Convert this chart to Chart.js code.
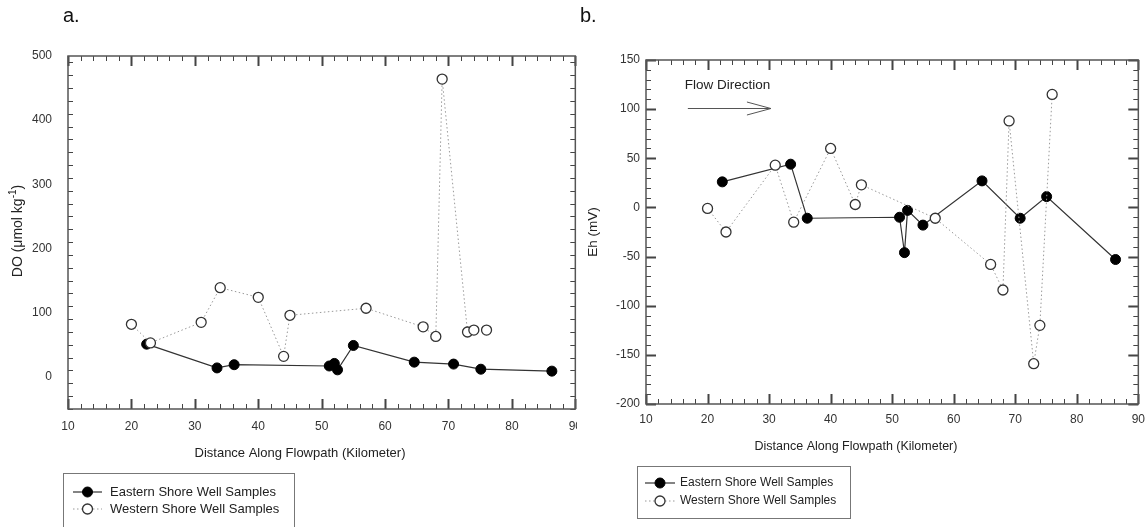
<!DOCTYPE html>
<html>
<head>
<meta charset="utf-8">
<script src="https://cdn.jsdelivr.net/npm/chart.js@4.4.1/dist/chart.umd.min.js"></script>
<style>
  body { margin: 0; background: #fff; width: 1146px; height: 527px; overflow: hidden; position: relative; }
  .panel { position: absolute; top: 0; background: #fff; }
  #panelA { left: 0; }
  #panelB { left: 577px; }
</style>
</head>
<body>
<div class="panel" id="panelA"><canvas id="chartA" width="592" height="527"></canvas></div>
<div class="panel" id="panelB"><canvas id="chartB" width="576" height="527"></canvas></div>
<script>
// distance along flowpath (km)
const distEast = [22.4, 33.5, 36.2, 51.2, 52.0, 52.5, 55.0, 64.6, 70.8, 75.1, 86.3];
const distWest = [20, 23, 31, 34, 40, 44, 45, 57, 66, 68, 69, 73, 74, 76];

// dissolved oxygen (umol/kg)
const doEast = [51, 14, 19, 17, 21, 11, 49, 23, 20, 12, 9];
const doWest = [82, 53, 85, 139, 124, 32, 96, 107, 78, 63, 464, 70, 73, 73];

// Eh (mV)
const ehEast = [26, 44, -11, -10, -46, -3, -18, 27, -11, 11, -53];
const ehWest = [-1, -25, 43, -15, 60, 3, 23, -11, -58, -84, 88, -159, -120, 115];

const seriesNames = ["Eastern Shore Well Samples", "Western Shore Well Samples"];
const xTitle = "Distance Along Flowpath (Kilometer)";

const FONT = "'Liberation Sans', Arial, sans-serif";
Chart.defaults.font.family = FONT;
Chart.defaults.font.size = 12;
Chart.defaults.color = "#333";

const toPoints = (xs, ys) => xs.map((x, i) => ({ x, y: ys[i] }));

function makeDatasets(eastY, westY) {
  return [
    {
      label: seriesNames[0],
      data: toPoints(distEast, eastY),
      showLine: true,
      borderColor: "#333",
      borderWidth: 1.2,
      pointBackgroundColor: "#000",
      pointBorderColor: "#000",
      pointRadius: 5,
      pointBorderWidth: 1,
      order: 1,
    },
    {
      label: seriesNames[1],
      data: toPoints(distWest, westY),
      showLine: true,
      borderColor: "#999",
      borderWidth: 1,
      borderDash: [1.5, 2.5],
      pointBackgroundColor: "#fff",
      pointBorderColor: "#333",
      pointRadius: 5,
      pointBorderWidth: 1.3,
      order: 0,
    },
  ];
}

// inward major/minor ticks on all four sides, frame, titles, legend
const frameTicks = {
  id: "frameTicks",
  afterDatasetsDraw(chart, args, o) {
    const { ctx, chartArea: a, scales: { x, y } } = chart;
    ctx.save();
    ctx.strokeStyle = "#444";

    const near = (v, step) => Math.abs(v / step - Math.round(v / step)) < 1e-6;

    for (let v = x.min; v <= x.max + 1e-9; v += o.xMinor) {
      const px = Math.round(x.getPixelForValue(v)) + 0.5;
      const major = near(v, o.xMajor);
      const len = major ? 10 : 5;
      ctx.lineWidth = major ? 2 : 1;
      ctx.beginPath();
      ctx.moveTo(px, a.bottom); ctx.lineTo(px, a.bottom - len);
      ctx.moveTo(px, a.top); ctx.lineTo(px, a.top + len);
      ctx.stroke();
    }
    for (let v = y.min; v <= y.max + 1e-9; v += o.yMinor) {
      const py = Math.round(y.getPixelForValue(v)) + 0.5;
      const major = near(v, o.yMajor);
      const len = major ? 10 : 5;
      ctx.lineWidth = major ? 2 : 1;
      ctx.beginPath();
      ctx.moveTo(a.left, py); ctx.lineTo(a.left + len, py);
      ctx.moveTo(a.right, py); ctx.lineTo(a.right - len, py);
      ctx.stroke();
    }

    ctx.lineWidth = 1.5;
    ctx.strokeStyle = "#555";
    ctx.strokeRect(a.left, a.top, a.right - a.left, a.bottom - a.top);

    // flow direction note
    if (o.flow) {
      const f = o.flow;
      ctx.fillStyle = "#222";
      ctx.font = "13.5px " + FONT;
      ctx.textAlign = "left";
      ctx.textBaseline = "middle";
      ctx.fillText(f.text, x.getPixelForValue(f.textX), y.getPixelForValue(f.textY));
      const x0 = x.getPixelForValue(f.x0), x1 = x.getPixelForValue(f.x1);
      const ay = Math.round(y.getPixelForValue(f.y)) + 0.5;
      ctx.strokeStyle = "#555";
      ctx.lineWidth = 1;
      ctx.beginPath();
      ctx.moveTo(x0, ay); ctx.lineTo(x1, ay);
      ctx.moveTo(x1 - 24, ay - 6.5); ctx.lineTo(x1, ay); ctx.lineTo(x1 - 24, ay + 6.5);
      ctx.stroke();
    }
    ctx.restore();
  },
  afterDraw(chart, args, o) {
    const ctx = chart.ctx;
    ctx.save();
    ctx.fillStyle = "#111";
    ctx.textBaseline = "middle";

    // panel letter
    ctx.font = "20px " + FONT;
    ctx.textAlign = "left";
    ctx.fillText(o.letter.text, o.letter.x, o.letter.y);

    // x title
    ctx.font = o.xTitle.size + "px " + FONT;
    ctx.fillStyle = "#222";
    ctx.textAlign = "center";
    ctx.fillText(xTitle, o.xTitle.x, o.xTitle.y);

    // y title, with optional superscript
    const ys = o.yTitle.size;
    ctx.translate(o.yTitle.x, o.yTitle.y);
    ctx.rotate(-Math.PI / 2);
    ctx.textAlign = "left";
    const parts = o.yTitle.parts;
    const fontOf = (p) => (p.sup ? Math.round(ys * 0.7) : ys) + "px " + FONT;
    let total = 0;
    parts.forEach((p) => {
      ctx.font = fontOf(p);
      total += ctx.measureText(p.t).width;
    });
    let cx = -total / 2;
    parts.forEach((p) => {
      ctx.font = fontOf(p);
      ctx.fillText(p.t, cx, p.sup ? -4.5 : 0);
      cx += ctx.measureText(p.t).width;
    });
    ctx.setTransform(1, 0, 0, 1, 0, 0);

    // legend box
    const L = o.legend;
    ctx.strokeStyle = "#777";
    ctx.lineWidth = 1;
    ctx.strokeRect(L.x + 0.5, L.y + 0.5, L.w, L.h);
    ctx.font = L.size + "px " + FONT;
    ctx.fillStyle = "#222";
    ctx.textAlign = "left";
    chart.data.datasets.forEach((ds, i) => {
      const ry = L.rows[i];
      const mx = (L.lx0 + L.lx1) / 2;
      ctx.save();
      ctx.strokeStyle = ds.borderColor;
      ctx.lineWidth = ds.borderWidth;
      ctx.setLineDash(ds.borderDash || []);
      ctx.beginPath();
      ctx.moveTo(L.lx0, ry); ctx.lineTo(L.lx1, ry);
      ctx.stroke();
      ctx.setLineDash([]);
      ctx.beginPath();
      ctx.arc(mx, ry, 5, 0, Math.PI * 2);
      ctx.fillStyle = ds.pointBackgroundColor;
      ctx.fill();
      ctx.lineWidth = ds.pointBorderWidth;
      ctx.strokeStyle = ds.pointBorderColor;
      ctx.stroke();
      ctx.restore();
      ctx.fillText(ds.label, L.tx, ry);
    });
    ctx.restore();
  },
};

function makeChart(id, cfg) {
  return new Chart(document.getElementById(id), {
    type: "scatter",
    data: { datasets: makeDatasets(cfg.eastY, cfg.westY) },
    options: {
      responsive: false,
      animation: false,
      layout: { padding: cfg.padding },
      plugins: {
        legend: { display: false },
        tooltip: { enabled: false },
        frameTicks: cfg.deco,
      },
      scales: {
        x: {
          type: "linear",
          min: 10,
          max: 90,
          grid: { display: false, drawTicks: false },
          border: { display: false },
          ticks: { stepSize: 10, padding: cfg.xPad, color: "#333" },
          afterFit: (s) => { s.height = cfg.xAxisH; },
        },
        y: {
          type: "linear",
          min: cfg.yMin,
          max: cfg.yMax,
          grid: { display: false, drawTicks: false },
          border: { display: false },
          ticks: { stepSize: cfg.yStep, padding: cfg.yPad, includeBounds: false, color: "#333" },
          afterFit: (s) => { s.width = cfg.yAxisW; },
        },
      },
    },
    plugins: [frameTicks],
  });
}

makeChart("chartA", {
  eastY: doEast,
  westY: doWest,
  yMin: -50, yMax: 500, yStep: 100,
  padding: { left: 0, top: 56, right: 15, bottom: 0 },
  xAxisH: 118, yAxisW: 68, xPad: 10, yPad: 16,
  deco: {
    xMinor: 2, xMajor: 10, yMinor: 20, yMajor: 100,
    letter: { text: "a.", x: 63, y: 16 },
    xTitle: { x: 300, y: 453, size: 13 },
    yTitle: { x: 18, y: 231, size: 14, parts: [{ t: "DO (\u03bcmol kg" }, { t: "-1", sup: true }, { t: ")" }] },
    legend: { x: 63, y: 473, w: 231, h: 60, lx0: 73, lx1: 102, tx: 110, rows: [492, 509], size: 13 },
  },
});

makeChart("chartB", {
  eastY: ehEast,
  westY: ehWest,
  yMin: -200, yMax: 150, yStep: 50,
  padding: { left: 0, top: 60, right: 8, bottom: 0 },
  xAxisH: 123, yAxisW: 69, xPad: 8, yPad: 6,
  deco: {
    xMinor: 2, xMajor: 10, yMinor: 10, yMajor: 50,
    letter: { text: "b.", x: 3, y: 16 },
    xTitle: { x: 279, y: 447, size: 12.5 },
    yTitle: { x: 16, y: 232, size: 13.5, parts: [{ t: "Eh (mV)" }] },
    legend: { x: 60, y: 466, w: 213, h: 52, lx0: 68, lx1: 98, tx: 103, rows: [483, 501], size: 12 },
    flow: { text: "Flow Direction", textX: 16.3, textY: 124.5, x0: 16.8, x1: 30.3, y: 101.6 },
  },
});
</script>
</body>
</html>
